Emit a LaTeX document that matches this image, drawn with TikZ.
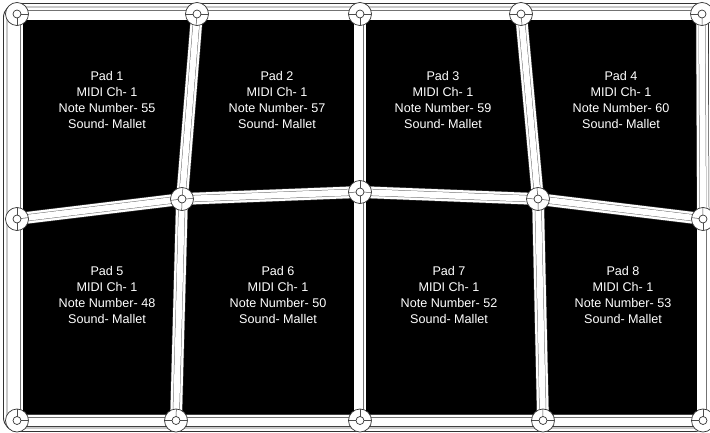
\documentclass[tikz,border=0pt]{standalone}
\usepackage{fontspec}
\setmainfont{Liberation Sans}
\usetikzlibrary{calc}
\tikzset{
jointnode/.style={circle,draw=black!80,fill=white,line width=0.7pt,minimum size=23pt,inner sep=0pt},
hubnode/.style={circle,draw=black!80,fill=white,line width=0.7pt,minimum size=8pt,inner sep=0pt},
padlabel/.style={align=center,text=white,font=\fontsize{12.6}{16.2}\selectfont,inner sep=0pt},
spokeline/.style={black!70,line width=0.5pt},
}
\newcommand{\barlink}[2]{%
\draw[black!75,line width=12.6pt] (#1) -- (#2);
\draw[white,line width=11.6pt] (#1) -- (#2);
\draw[black!55,line width=7pt] (#1) -- (#2);
\draw[white,line width=6pt] (#1) -- (#2);
}
\begin{document}
\begin{tikzpicture}[x=1pt,y=-1pt,inner sep=0pt,outer sep=0pt]
\useasboundingbox (0,0) rectangle (710,433);
\draw[black!80,line width=0.9pt,rounded corners=14pt] (3.5,3.5) rectangle (708.5,431.5);
\draw[black!60,line width=0.7pt,rounded corners=10pt] (7,7) rectangle (705,428);
\fill[black] (23,20) rectangle (697,415);
\coordinate (jointA) at (17,14);
\coordinate (jointB) at (197,14);
\coordinate (jointC) at (360,14);
\coordinate (jointD) at (521,14);
\coordinate (jointE) at (702,14);
\coordinate (jointF) at (17,219);
\coordinate (jointG) at (182,199);
\coordinate (jointH) at (360,192);
\coordinate (jointI) at (538,199);
\coordinate (jointJ) at (703,219);
\coordinate (jointK) at (17,420.5);
\coordinate (jointL) at (176,420.5);
\coordinate (jointM) at (360,420.5);
\coordinate (jointN) at (543,420.5);
\coordinate (jointO) at (703,420.5);
\def\linklist{A/B,B/C,C/D,D/E,K/L,L/M,M/N,N/O,A/F,F/K,E/J,J/O,B/G,G/L,C/H,H/M,D/I,I/N,F/G,G/H,H/I,I/J}
\foreach \a/\b in \linklist {\barlink{joint\a}{joint\b}}
\foreach \j in {A,B,C,D,E,F,G,H,I,J,K,L,M,N,O}{
\node[jointnode] (ring\j) at (joint\j) {};
}
\foreach \a/\b in \linklist {
\draw[spokeline] (joint\a) -- ($(joint\a)!11.5pt!(joint\b)$);
\draw[spokeline] (joint\b) -- ($(joint\b)!11.5pt!(joint\a)$);
}
\foreach \j in {A,B,C,D,E,F,G,H,I,J,K,L,M,N,O}{
\node[hubnode] (hub\j) at (joint\j) {};
}
\node[padlabel] (padA) at (107,100) {Pad 1\\MIDI Ch- 1\\Note Number- 55\\Sound- Mallet};
\node[padlabel] (padB) at (277,100) {Pad 2\\MIDI Ch- 1\\Note Number- 57\\Sound- Mallet};
\node[padlabel] (padC) at (443,100) {Pad 3\\MIDI Ch- 1\\Note Number- 59\\Sound- Mallet};
\node[padlabel] (padD) at (621,100) {Pad 4\\MIDI Ch- 1\\Note Number- 60\\Sound- Mallet};
\node[padlabel] (padE) at (107,295) {Pad 5\\MIDI Ch- 1\\Note Number- 48\\Sound- Mallet};
\node[padlabel] (padF) at (278,295) {Pad 6\\MIDI Ch- 1\\Note Number- 50\\Sound- Mallet};
\node[padlabel] (padG) at (449,295) {Pad 7\\MIDI Ch- 1\\Note Number- 52\\Sound- Mallet};
\node[padlabel] (padH) at (623,295) {Pad 8\\MIDI Ch- 1\\Note Number- 53\\Sound- Mallet};
\end{tikzpicture}
\end{document}
